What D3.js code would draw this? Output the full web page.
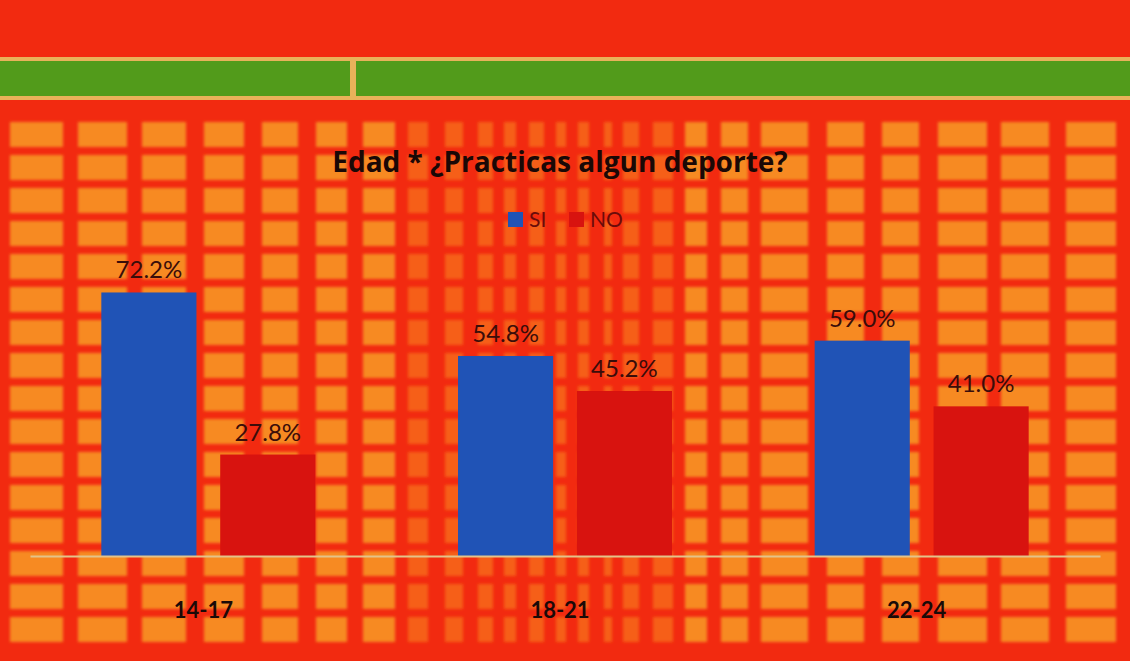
<!DOCTYPE html>
<html>
<head>
<meta charset="utf-8">
<script src="https://cdn.jsdelivr.net/npm/d3@7/dist/d3.min.js"></script>
<style>
html,body{margin:0;padding:0;background:#f22a10;}
svg{display:block;}
</style>
</head>
<body>
<svg id="chart" width="1130" height="661"></svg>
<script>
// ---- data ----
const categories = ["14-17", "18-21", "22-24"];
const seriesNames = ["SI", "NO"];
const siValues = [72.2, 54.8, 59.0];
const noValues = [27.8, 45.2, 41.0];
const chartTitle = "Edad * ¿Practicas algun deporte?";

const W = 1130, H = 661;
const svg = d3.select("#chart");

const defs = svg.append("defs");
defs.append("filter").attr("id", "soft").attr("x", "-5%").attr("y", "-5%").attr("width", "110%").attr("height", "110%")
  .append("feGaussianBlur").attr("stdDeviation", 1.6);

// ---- decorative background ----
svg.append("rect").attr("width", W).attr("height", H).attr("fill", "#f22a10");
const cellCols = [[10,63],[78,127],[142,186],[204,244],[262,298],[316,347],[363,395],
  [408,428],[445,463],[478,493],[504,516],[529,544],[556,566],[578,589],[604,612],[623,639],
  [653,673],[685,707],[721,748],[761,808],[827,864],[882,919],[938,987],[1001,1049],[1066,1116]];
const rowStarts = d3.range(122, 640, 33);
const bg = svg.append("g").attr("filter", "url(#soft)");
rowStarts.forEach(y0 => {
  cellCols.forEach(([a,b]) => {
    const mid = a > 380 && b < 700;
    bg.append("rect")
      .attr("x", a).attr("y", y0)
      .attr("width", b - a).attr("height", Math.min(25, 643 - y0))
      .attr("fill", mid ? "#f7701a" : "#f78a20")
      .attr("opacity", mid ? 0.75 : 1);
  });
});
// green band
svg.append("rect").attr("x", 0).attr("y", 57).attr("width", W).attr("height", 43).attr("fill", "#e9b25a");
svg.append("rect").attr("x", 0).attr("y", 61).attr("width", 350).attr("height", 35).attr("fill", "#529b1b");
svg.append("rect").attr("x", 356).attr("y", 61).attr("width", W - 356).attr("height", 35).attr("fill", "#529b1b");

// ---- scales ----
const x0 = d3.scaleBand().domain(categories).range([30, 1100]).paddingInner(0.4).paddingOuter(0.2);
const x1 = d3.scaleBand().domain(seriesNames).range([0, x0.bandwidth()]).paddingInner(0.2);
const y = d3.scaleLinear().domain([0, 100]).range([556, 191]);
const color = d3.scaleOrdinal().domain(seriesNames).range(["#2053b6", "#d8130f"]);

const rows = categories.map((c, i) => ({cat: c, vals: [{k: "SI", v: siValues[i]}, {k: "NO", v: noValues[i]}]}));

// ---- bars ----
const groups = svg.append("g").selectAll("g").data(rows).join("g")
  .attr("transform", d => `translate(${x0(d.cat)},0)`);
groups.selectAll("rect").data(d => d.vals).join("rect")
  .attr("x", d => x1(d.k)).attr("width", x1.bandwidth())
  .attr("y", d => y(d.v)).attr("height", d => y(0) - y(d.v))
  .attr("fill", d => color(d.k));
groups.selectAll("text").data(d => d.vals).join("text")
  .attr("x", d => x1(d.k) + x1.bandwidth() / 2)
  .attr("y", d => y(d.v) - 14)
  .attr("text-anchor", "middle")
  .attr("font-family", "Lato, 'Open Sans', sans-serif")
  .attr("font-size", 24)
  .attr("fill", "#3a0d0a")
  .text(d => d.v.toFixed(1) + "%");

// ---- x axis ----
const xAxis = svg.append("g").attr("transform", `translate(0,${y(0)})`)
  .call(d3.axisBottom(x0).tickSize(0).tickPadding(0));
xAxis.select(".domain").attr("stroke", "#e3c38a").attr("stroke-width", 2);
xAxis.selectAll("text")
  .attr("dy", 0).attr("y", 62).attr("dx", -5)
  .attr("font-family", "Lato, 'Open Sans', sans-serif")
  .attr("font-size", 22).attr("font-weight", "bold")
  .attr("fill", "#1a0a08");

// ---- title ----
svg.append("text").attr("x", 560).attr("y", 172)
  .attr("text-anchor", "middle")
  .attr("font-family", "'Open Sans', Lato, sans-serif")
  .attr("font-size", 28).attr("font-weight", "bold")
  .attr("fill", "#1a0806")
  .text(chartTitle);

// ---- legend ----
const legend = svg.append("g");
const legX = [508, 569];
seriesNames.forEach((s, i) => {
  legend.append("rect").attr("x", legX[i]).attr("y", 212).attr("width", 15).attr("height", 15).attr("fill", color(s));
  legend.append("text").attr("x", legX[i] + 21).attr("y", 227)
    .attr("font-family", "Lato, 'Open Sans', sans-serif")
    .attr("font-size", 21).attr("fill", "#6a0c0a")
    .text(s);
});
</script>
</body>
</html>
